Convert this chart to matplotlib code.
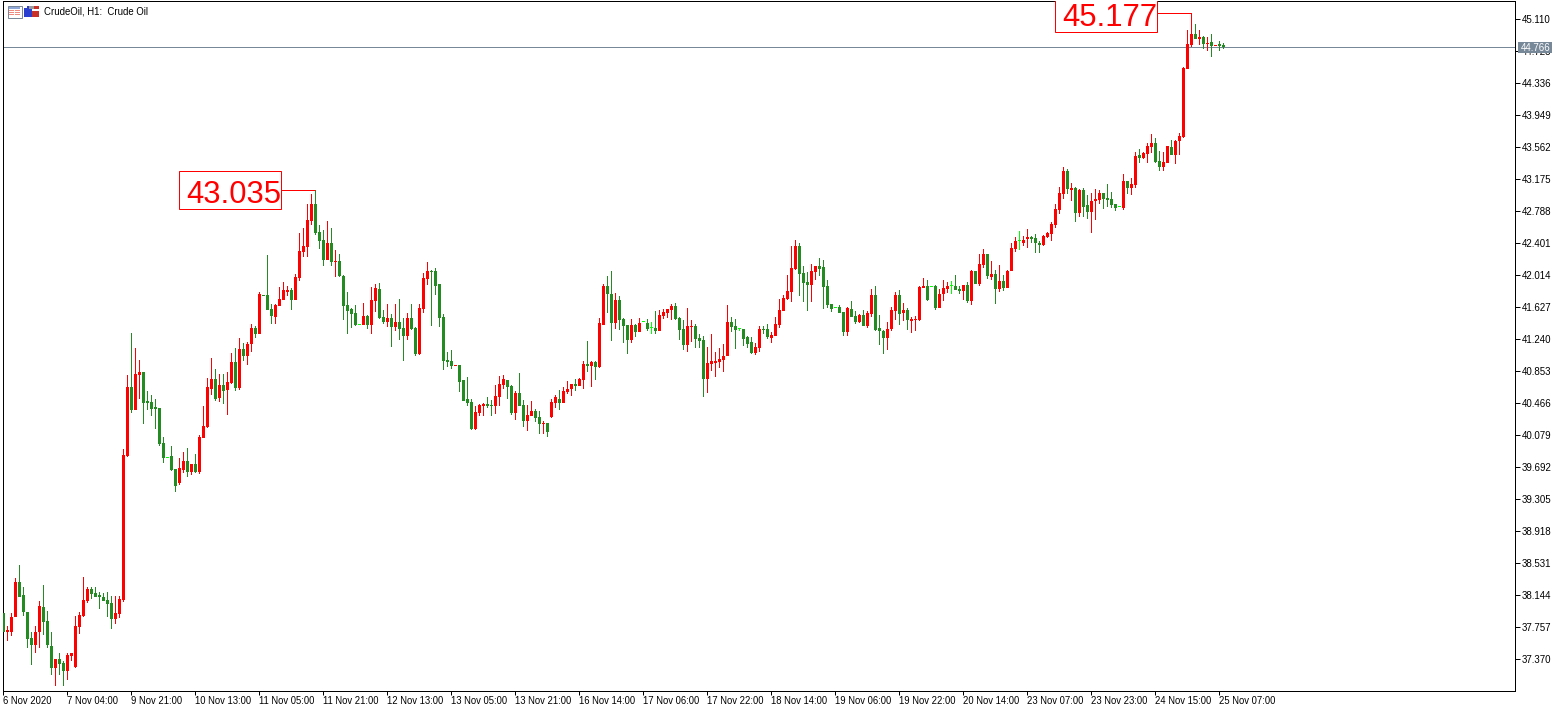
import matplotlib
matplotlib.use('Agg')
import matplotlib.pyplot as plt
from matplotlib.patches import Rectangle

# H1 candles, one row = 16 bars (same step as the time axis)
opens = [
    37.93, 37.70, 37.70, 37.88, 38.31, 38.15, 37.94, 37.63, 37.55, 37.70, 38.00, 37.84, 37.53, 37.26, 37.38, 37.33,
    37.23, 37.41, 37.28, 37.76, 37.90, 38.08, 38.22, 38.17, 38.15, 38.13, 38.09, 38.05, 37.86, 37.92, 38.09, 39.83,
    40.67, 40.39, 40.81, 40.85, 40.50, 40.48, 40.42, 40.41, 39.99, 39.81, 39.83, 39.67, 39.50, 39.66, 39.77, 39.64,
    39.73, 39.64, 40.05, 40.18, 40.64, 40.76, 40.53, 40.69, 40.63, 40.71, 40.97, 40.65, 41.13, 41.04, 41.19, 41.38,
    41.31, 41.78, 41.78, 41.61, 41.51, 41.64, 41.72, 41.81, 41.84, 41.72, 41.98, 42.30, 42.36, 42.67, 42.88, 42.54,
    42.44, 42.20, 42.41, 42.18, 42.19, 42.01, 41.66, 41.61, 41.56, 41.42, 41.42, 41.52, 41.42, 41.71, 41.85, 41.51,
    41.45, 41.50, 41.39, 41.45, 41.38, 41.28, 41.50, 41.38, 41.06, 41.61, 41.97, 42.07, 42.07, 41.91, 41.51, 40.99,
    40.98, 40.92, 40.93, 40.75, 40.52, 40.48, 40.16, 40.35, 40.44, 40.46, 40.45, 40.44, 40.54, 40.69, 40.75, 40.68,
    40.35, 40.59, 40.45, 40.25, 40.31, 40.37, 40.30, 40.22, 40.23, 40.30, 40.47, 40.52, 40.47, 40.60, 40.64, 40.70,
    40.68, 40.75, 40.94, 40.92, 40.97, 40.91, 41.42, 41.89, 41.79, 41.44, 41.72, 41.49, 41.42, 41.23, 41.42, 41.33,
    41.45, 41.44, 41.38, 41.38, 41.34, 41.52, 41.56, 41.60, 41.64, 41.50, 41.37, 41.17, 41.39, 41.40, 41.26, 41.23,
    40.76, 40.94, 40.96, 40.97, 40.99, 41.04, 41.45, 41.40, 41.36, 41.37, 41.27, 41.21, 41.08, 41.14, 41.37, 41.37,
    41.26, 41.28, 41.42, 41.58, 41.73, 41.81, 42.09, 42.37, 42.04, 41.94, 41.90, 42.06, 42.13, 42.12, 41.89, 41.67,
    41.62, 41.63, 41.57, 41.33, 41.61, 41.52, 41.45, 41.54, 41.40, 41.55, 41.78, 41.38, 41.34, 41.26, 41.37, 41.58,
    41.78, 41.56, 41.60, 41.46, 41.48, 41.48, 41.86, 41.89, 41.87, 41.89, 41.62, 41.79, 41.85, 41.88, 41.89, 41.85,
    41.83, 41.90, 41.71, 42.07, 41.91, 42.14, 42.27, 42.00, 42.03, 41.85, 41.95, 41.86, 42.07, 42.33, 42.43, 42.41,
    42.46, 42.48, 42.47, 42.41, 42.38, 42.48, 42.52, 42.62, 42.81, 43.00, 43.28, 43.05, 43.07, 42.77, 43.05, 42.86,
    42.78, 42.91, 42.93, 43.01, 42.95, 42.94, 42.88, 42.84, 42.83, 43.15, 43.07, 43.11, 43.47, 43.44, 43.48, 43.57,
    43.62, 43.40, 43.33, 43.37, 43.57, 43.47, 43.64, 43.69, 44.51, 44.80, 44.93, 44.87, 44.90, 44.81, 44.84, 44.79, 44.81, 44.80]
highs = [
    37.93, 37.77, 37.93, 38.36, 38.51, 38.25, 37.94, 37.70, 37.78, 38.08, 38.27, 37.96, 37.70, 37.38, 37.45, 37.35,
    37.45, 37.45, 37.90, 37.94, 38.37, 38.24, 38.24, 38.24, 38.19, 38.17, 38.19, 38.14, 38.14, 38.14, 39.92, 40.81,
    41.32, 41.14, 40.99, 40.85, 40.62, 40.57, 40.52, 40.41, 40.06, 39.81, 39.95, 39.67, 39.81, 39.88, 39.93, 39.73,
    39.86, 40.09, 40.44, 40.77, 41.02, 40.88, 40.82, 40.82, 40.84, 41.08, 41.14, 41.26, 41.20, 41.21, 41.43, 41.40,
    41.81, 41.78, 42.26, 41.67, 41.67, 41.87, 41.94, 41.89, 41.86, 42.03, 42.53, 42.59, 42.88, 43.00, 43.05, 42.62,
    42.56, 42.67, 42.59, 42.32, 42.27, 42.02, 41.81, 41.62, 41.66, 41.42, 41.68, 41.54, 41.87, 41.91, 41.92, 41.60,
    41.67, 41.55, 41.67, 41.73, 41.50, 41.56, 41.67, 41.39, 41.67, 42.04, 42.18, 42.08, 42.10, 41.91, 41.55, 41.09,
    41.11, 40.93, 40.93, 40.75, 40.79, 40.52, 40.44, 40.46, 40.47, 40.54, 40.51, 40.69, 40.80, 40.81, 40.75, 40.69,
    40.62, 40.83, 40.51, 40.45, 40.50, 40.40, 40.37, 40.25, 40.23, 40.52, 40.57, 40.63, 40.66, 40.74, 40.70, 40.76,
    40.77, 40.98, 41.22, 40.98, 40.98, 41.50, 41.91, 42.01, 42.07, 41.80, 41.77, 41.50, 41.42, 41.49, 41.43, 41.50,
    41.45, 41.49, 41.45, 41.58, 41.60, 41.61, 41.61, 41.67, 41.68, 41.51, 41.48, 41.62, 41.48, 41.43, 41.31, 41.28,
    41.15, 41.31, 41.09, 41.14, 41.19, 41.66, 41.51, 41.49, 41.36, 41.37, 41.28, 41.27, 41.20, 41.40, 41.40, 41.43,
    41.33, 41.51, 41.73, 41.78, 42.02, 42.37, 42.44, 42.40, 42.13, 42.06, 42.15, 42.13, 42.22, 42.20, 41.96, 41.67,
    41.62, 41.66, 41.57, 41.63, 41.71, 41.58, 41.55, 41.60, 41.58, 41.85, 41.89, 41.54, 41.35, 41.45, 41.63, 41.81,
    41.84, 41.68, 41.62, 41.51, 41.52, 41.89, 41.98, 41.96, 41.87, 41.90, 41.85, 41.96, 41.94, 41.95, 42.02, 41.89,
    41.90, 41.94, 42.08, 42.07, 42.27, 42.33, 42.27, 42.19, 42.08, 42.14, 42.02, 42.08, 42.41, 42.48, 42.55, 42.49,
    42.58, 42.49, 42.52, 42.43, 42.50, 42.54, 42.66, 42.88, 43.08, 43.33, 43.30, 43.13, 43.08, 43.06, 43.07, 42.99,
    43.01, 43.06, 43.05, 43.01, 43.12, 43.02, 42.88, 42.84, 43.24, 43.15, 43.19, 43.51, 43.54, 43.51, 43.62, 43.73,
    43.68, 43.52, 43.51, 43.58, 43.65, 43.65, 43.74, 44.54, 44.98, 45.19, 45.06, 44.98, 44.91, 44.90, 44.93, 44.80, 44.85, 44.83]
lows = [
    37.70, 37.59, 37.65, 37.88, 38.12, 37.90, 37.51, 37.30, 37.45, 37.51, 37.67, 37.51, 37.18, 37.05, 37.18, 37.05,
    37.12, 37.35, 37.26, 37.68, 37.88, 38.05, 38.10, 38.13, 37.98, 38.08, 37.88, 37.74, 37.80, 37.87, 38.07, 39.82,
    40.35, 40.39, 40.52, 40.22, 40.39, 40.31, 40.16, 39.95, 39.75, 39.81, 39.65, 39.40, 39.48, 39.63, 39.58, 39.60,
    39.63, 39.61, 40.05, 40.17, 40.57, 40.50, 40.48, 40.46, 40.33, 40.70, 40.62, 40.63, 40.98, 40.93, 41.09, 41.26,
    41.31, 41.77, 41.60, 41.43, 41.43, 41.64, 41.72, 41.77, 41.60, 41.72, 41.95, 42.24, 42.24, 42.62, 42.50, 42.33,
    42.13, 42.20, 42.13, 42.00, 42.00, 41.48, 41.31, 41.38, 41.40, 41.42, 41.42, 41.37, 41.31, 41.57, 41.49, 41.43,
    41.39, 41.15, 41.34, 41.23, 40.98, 41.23, 41.35, 41.04, 41.05, 41.56, 41.90, 41.40, 41.78, 41.39, 40.87, 40.91,
    40.88, 40.92, 40.60, 40.50, 40.44, 40.14, 40.14, 40.31, 40.31, 40.41, 40.31, 40.34, 40.44, 40.64, 40.52, 40.33,
    40.27, 40.44, 40.18, 40.13, 40.31, 40.24, 40.10, 40.10, 40.06, 40.29, 40.41, 40.39, 40.47, 40.58, 40.56, 40.62,
    40.68, 40.64, 40.85, 40.66, 40.75, 40.89, 41.42, 41.56, 41.22, 41.37, 41.35, 41.20, 41.06, 41.20, 41.27, 41.33,
    41.45, 41.34, 41.31, 41.31, 41.34, 41.49, 41.50, 41.48, 41.48, 41.23, 41.11, 41.09, 41.21, 41.14, 41.14, 40.54,
    40.59, 40.86, 40.79, 40.89, 40.85, 41.04, 41.33, 41.12, 41.34, 41.16, 41.14, 41.06, 41.05, 41.09, 41.31, 41.25,
    41.20, 41.28, 41.38, 41.58, 41.72, 41.69, 42.08, 41.77, 41.69, 41.58, 41.69, 41.96, 42.01, 41.61, 41.62, 41.57,
    41.62, 41.56, 41.28, 41.28, 41.51, 41.43, 41.44, 41.40, 41.38, 41.51, 41.34, 41.17, 41.06, 41.11, 41.34, 41.48,
    41.42, 41.46, 41.35, 41.32, 41.34, 41.46, 41.86, 41.71, 41.87, 41.60, 41.62, 41.71, 41.80, 41.79, 41.84, 41.79,
    41.72, 41.68, 41.66, 41.91, 41.89, 42.10, 41.97, 41.96, 41.67, 41.81, 41.83, 41.86, 42.07, 42.30, 42.32, 42.37,
    42.35, 42.41, 42.29, 42.29, 42.37, 42.47, 42.43, 42.59, 42.76, 42.94, 43.00, 42.91, 42.66, 42.72, 42.72, 42.70,
    42.53, 42.69, 42.88, 42.82, 42.84, 42.83, 42.79, 42.84, 42.81, 43.00, 42.99, 43.07, 43.37, 43.42, 43.37, 43.50,
    43.37, 43.28, 43.28, 43.37, 43.47, 43.36, 43.47, 43.68, 44.51, 44.78, 44.87, 44.80, 44.75, 44.73, 44.65, 44.79, 44.73, 44.75]
closes = [
    37.70, 37.72, 37.88, 38.31, 38.13, 37.94, 37.62, 37.55, 37.70, 38.02, 37.82, 37.54, 37.26, 37.38, 37.32, 37.23,
    37.42, 37.45, 37.78, 37.91, 38.09, 38.22, 38.16, 38.13, 38.13, 38.08, 38.04, 37.86, 37.93, 38.10, 39.84, 40.67,
    40.39, 40.82, 40.85, 40.47, 40.47, 40.40, 40.40, 39.98, 39.81, 39.81, 39.66, 39.47, 39.69, 39.77, 39.64, 39.73,
    39.64, 40.06, 40.19, 40.67, 40.76, 40.52, 40.69, 40.62, 40.73, 40.97, 40.65, 41.13, 41.04, 41.19, 41.38, 41.31,
    41.79, 41.77, 41.60, 41.52, 41.66, 41.73, 41.84, 41.84, 41.72, 42.00, 42.31, 42.37, 42.69, 42.88, 42.53, 42.43,
    42.20, 42.41, 42.18, 42.19, 42.01, 41.64, 41.58, 41.55, 41.42, 41.42, 41.52, 41.42, 41.72, 41.86, 41.50, 41.45,
    41.50, 41.39, 41.45, 41.37, 41.28, 41.50, 41.37, 41.06, 41.62, 41.98, 42.07, 42.06, 41.89, 41.50, 40.98, 40.97,
    40.92, 40.93, 40.73, 40.50, 40.47, 40.16, 40.36, 40.45, 40.46, 40.44, 40.44, 40.56, 40.70, 40.76, 40.66, 40.35,
    40.59, 40.44, 40.25, 40.33, 40.37, 40.29, 40.22, 40.23, 40.12, 40.48, 40.54, 40.47, 40.62, 40.64, 40.70, 40.68,
    40.76, 40.94, 40.92, 40.97, 40.91, 41.44, 41.89, 41.79, 41.44, 41.72, 41.48, 41.40, 41.23, 41.42, 41.33, 41.44,
    41.45, 41.37, 41.38, 41.34, 41.54, 41.57, 41.61, 41.64, 41.49, 41.35, 41.17, 41.40, 41.40, 41.25, 41.22, 40.76,
    40.96, 40.98, 40.98, 41.00, 41.04, 41.45, 41.39, 41.35, 41.36, 41.25, 41.19, 41.08, 41.15, 41.37, 41.35, 41.27,
    41.29, 41.43, 41.60, 41.74, 41.83, 42.10, 42.37, 42.03, 41.92, 41.90, 42.07, 42.13, 42.09, 41.87, 41.66, 41.61,
    41.62, 41.56, 41.33, 41.62, 41.51, 41.45, 41.54, 41.40, 41.56, 41.78, 41.35, 41.34, 41.26, 41.37, 41.60, 41.78,
    41.55, 41.60, 41.48, 41.49, 41.49, 41.87, 41.89, 41.72, 41.87, 41.62, 41.79, 41.86, 41.89, 41.88, 41.84, 41.83,
    41.90, 41.71, 42.07, 41.91, 42.15, 42.27, 42.01, 42.03, 41.85, 41.95, 41.86, 42.07, 42.35, 42.43, 42.43, 42.44,
    42.48, 42.46, 42.40, 42.38, 42.49, 42.53, 42.64, 42.82, 43.01, 43.28, 43.06, 43.07, 42.77, 43.05, 42.84, 42.78,
    42.91, 42.94, 43.01, 42.94, 42.93, 42.87, 42.83, 42.84, 43.16, 43.07, 43.12, 43.46, 43.44, 43.50, 43.58, 43.62,
    43.39, 43.33, 43.39, 43.58, 43.47, 43.64, 43.70, 44.52, 44.81, 44.93, 44.87, 44.90, 44.81, 44.83, 44.79, 44.80, 44.79, 44.78]

time_labels = ['6 Nov 2020', '7 Nov 04:00', '9 Nov 21:00', '10 Nov 13:00', '11 Nov 05:00',
               '11 Nov 21:00', '12 Nov 13:00', '13 Nov 05:00', '13 Nov 21:00', '16 Nov 14:00',
               '17 Nov 06:00', '17 Nov 22:00', '18 Nov 14:00', '19 Nov 06:00', '19 Nov 22:00',
               '20 Nov 14:00', '23 Nov 07:00', '23 Nov 23:00', '24 Nov 15:00', '25 Nov 07:00']
price_ticks = [45.110, 44.723, 44.336, 43.949, 43.562, 43.175, 42.788, 42.401, 42.014, 41.627, 41.240,
               40.853, 40.466, 40.079, 39.692, 39.305, 38.918, 38.531, 38.144, 37.757, 37.370]
bid_price = 44.766
low_peak_label = '43.035'
high_peak_label = '45.177'

RED = '#ff0000'
GREEN = '#228b22'
LIME = '#00ff00'
SLATE = '#778899'
W, H = 1553, 708
PX = 0.72  # one pixel in points at dpi 100
ROW = 0.0121  # one pixel in price

plt.rcParams['font.family'] = 'Liberation Sans'

fig = plt.figure(figsize=(W / 100, H / 100), dpi=100, facecolor='white')
# the .4 / .6 keep agg's pixel snapping on the same columns and rows as the terminal
ax = fig.add_axes([3.4 / W, 16.6 / H, 1512 / W, 690 / H])
ax.set_xlim(0, 378)
ax.set_ylim(36.983, 45.328)

# candles, wick and body both as bars so the edges stay crisp
for i in range(len(opens)):
    o, h, l, c = opens[i], highs[i], lows[i], closes[i]
    col = RED if c > o else GREEN if c < o else LIME
    if h > l:
        ax.bar(i, h - l, bottom=l, width=0.25, color=col, linewidth=0, zorder=3)
    ax.bar(i, max(abs(c - o), ROW), bottom=min(o, c), width=0.75, color=col, linewidth=0, zorder=4)

# bid line
ax.axhline(bid_price + 0.005, color=SLATE, lw=PX, zorder=2)

# peak labels
for idx, label, left, tx in [(78, low_peak_label, 44, 57.6), (297, high_peak_label, 263, 276.5)]:
    top = highs[idx]
    ax.hlines(top, left + 25.5, idx, color=RED, lw=PX, zorder=5)
    ax.add_patch(Rectangle((left, top - 0.23), 25.5, 0.46, facecolor='white', edgecolor=RED,
                           lw=PX, zorder=5))
    ax.text(tx, top - 0.16, label, color=RED, fontsize=22.3, ha='center', va='baseline',
            zorder=6, clip_on=True)

ax.set_xticks(range(0, 16 * len(time_labels), 16))
ax.set_xticklabels(time_labels, ha='left', fontsize=6.85)
ax.yaxis.tick_right()
ax.set_yticks(price_ticks)
ax.set_yticklabels(['%.3f' % p for p in price_ticks], fontsize=7.0)
ax.tick_params(axis='x', length=2.9, width=PX, pad=0.6, color='black')
ax.tick_params(axis='y', length=3.6, width=PX, pad=0.8, color='black')
for s in ax.spines.values():
    s.set_linewidth(PX)
    s.set_color('black')

# price tag on the scale
ax.add_patch(Rectangle((378.7, bid_price - 0.061), 8.5, 0.133, facecolor=SLATE,
                       edgecolor='none', clip_on=False, zorder=9))
ax.annotate('%.3f' % bid_price, xy=(1, bid_price), xycoords=('axes fraction', 'data'),
            xytext=(4, 0), textcoords='offset points', color='white', fontsize=7.0,
            va='center', ha='left', zorder=10, annotation_clip=False)

# chart header, drawn in pixel coordinates
head = fig.add_axes([0, 0, 1, 1], facecolor='none')
head.set_xlim(0, W)
head.set_ylim(H, 0)
head.axis('off')
head.text(44.5, 11, 'CrudeOil, H1:  Crude Oil', fontsize=6.9, va='center', ha='left', color='black')
head.add_patch(Rectangle((7.5, 5.5), 14, 12, facecolor='white', edgecolor='#7a869a', lw=PX))
head.add_patch(Rectangle((9, 7), 11, 2, facecolor='#8fa8d8', edgecolor='none'))
for yy in (10, 12, 14):
    head.add_patch(Rectangle((9, yy), 5, 1.4, facecolor='#f08a80', edgecolor='none'))
    head.add_patch(Rectangle((15, yy), 5, 1.4, facecolor='#f08a80', edgecolor='none'))
head.add_patch(Rectangle((24, 8), 8, 9, facecolor='#2a3fd0', edgecolor='none'))
head.add_patch(Rectangle((27, 6), 4, 3, facecolor='#2a3fd0', edgecolor='none'))
head.add_patch(Rectangle((32, 11), 7, 6, facecolor='#c8302a', edgecolor='none'))
head.add_patch(Rectangle((33, 6), 6, 3, facecolor='#c8302a', edgecolor='none'))
head.add_patch(Rectangle((29, 6), 5, 3, facecolor='#9a9a9a', edgecolor='none'))

fig.savefig('out.png', dpi=100)
